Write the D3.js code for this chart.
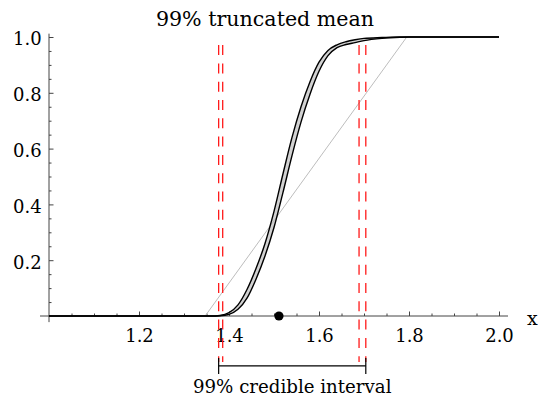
<!DOCTYPE html>
<html>
<head>
<meta charset="utf-8">
<script src="https://cdn.jsdelivr.net/npm/d3@7"></script>
<style>
  html, body { margin: 0; padding: 0; background: #fff; }
  svg { display: block; }
</style>
</head>
<body>
<svg id="chart" width="538" height="401" font-family="DejaVu Serif, serif"></svg>
<script>
// ---- data ----
const title = "99% truncated mean";
const xLabel = "x";
const intervalLabel = "99% credible interval";
const xMajorTicks = [1.2, 1.4, 1.6, 1.8, 2.0];
const yMajorTicks = [0.2, 0.4, 0.6, 0.8, 1.0];
const cdfX     = [1.0, 1.36, 1.38,  1.40,  1.42,  1.44,  1.46,  1.48,  1.50,  1.52,  1.54,  1.56,  1.58,  1.60,  1.62,  1.64,  1.66,  1.68,  1.70,  1.74,  1.78,  1.80, 2.0];
const cdfUpper = [0,   0,    0.002, 0.012, 0.040, 0.095, 0.170, 0.260, 0.375, 0.510, 0.640, 0.750, 0.840, 0.910, 0.952, 0.972, 0.983, 0.990, 0.995, 0.998, 1.000, 1,    1];
const cdfLower = [0,   0,    0.001, 0.006, 0.024, 0.064, 0.132, 0.215, 0.317, 0.443, 0.575, 0.695, 0.795, 0.877, 0.933, 0.962, 0.973, 0.980, 0.987, 0.995, 0.999, 1,    1];
const refLineX = [1.347, 1.795];
const refLineY = [0, 1];
const redLines = [1.377, 1.386, 1.689, 1.704];
const credibleInterval = [1.377, 1.704];
const meanValue = 1.511;

// ---- layout ----
const FONT = "DejaVu Serif, serif";
const svg = d3.select("#chart");
const x = d3.scaleLinear().domain([1, 2]).range([49, 499]);
const y = d3.scaleLinear().domain([0, 1]).range([316, 37]);

const xMinor = d3.range(1.05, 2.0001, 0.05).filter(v => Math.abs(Math.round(v * 5) - v * 5) > 1e-6);
const yMinor = d3.range(0.05, 1.0001, 0.05).filter(v => Math.abs(Math.round(v * 5) - v * 5) > 1e-6);

const axisColor = "#444";

svg.append("line").attr("x1", x(0.98)).attr("x2", x(2.02)).attr("y1", y(0)).attr("y2", y(0))
  .attr("stroke", axisColor).attr("stroke-width", 1);
svg.append("line").attr("x1", x(1)).attr("x2", x(1)).attr("y1", y(-0.022)).attr("y2", y(1.012))
  .attr("stroke", axisColor).attr("stroke-width", 1);

const gxMinor = svg.append("g").attr("transform", `translate(0,${y(0)})`)
  .call(d3.axisTop(x).tickValues(xMinor).tickSize(2.5).tickFormat(""));
const gxMajor = svg.append("g").attr("transform", `translate(0,${y(0)})`)
  .call(d3.axisTop(x).tickValues(xMajorTicks).tickSize(4.5).tickFormat(d3.format(".1f")));
const gyMinor = svg.append("g").attr("transform", `translate(${x(1)},0)`)
  .call(d3.axisRight(y).tickValues(yMinor).tickSize(2.5).tickFormat(""));
const gyMajor = svg.append("g").attr("transform", `translate(${x(1)},0)`)
  .call(d3.axisRight(y).tickValues(yMajorTicks).tickSize(4.5).tickFormat(d3.format(".1f")));

[gxMinor, gxMajor, gyMinor, gyMajor].forEach(g => {
  g.attr("font-family", FONT);
  g.select(".domain").remove();
  g.selectAll(".tick line").attr("stroke", axisColor).attr("stroke-width", 1);
});
gxMajor.selectAll(".tick text")
  .attr("y", 26).attr("dy", null)
  .attr("font-size", 18).attr("fill", "#000");
gyMajor.selectAll(".tick text")
  .attr("x", -7.3).attr("dy", "0.44em").attr("text-anchor", "end")
  .attr("font-size", 18).attr("fill", "#000");

const pts = cdfX.map((v, i) => ({ x: v, u: cdfUpper[i], l: cdfLower[i] }));
svg.append("path").datum(pts)
  .attr("d", d3.area().x(d => x(d.x)).y0(d => y(d.l)).y1(d => y(d.u)).curve(d3.curveMonotoneX))
  .attr("fill", "#d2d2d2").attr("stroke", "none");

svg.append("path").datum(refLineX.map((v, i) => [v, refLineY[i]]))
  .attr("d", d3.line().x(d => x(d[0])).y(d => y(d[1])))
  .attr("fill", "none").attr("stroke", "#bdbdbd").attr("stroke-width", 1);

["u", "l"].forEach(k => {
  svg.append("path").datum(pts)
    .attr("d", d3.line().x(d => x(d.x)).y(d => y(d[k])).curve(d3.curveMonotoneX))
    .attr("fill", "none").attr("stroke", "#000").attr("stroke-width", 1.4);
});

svg.selectAll("line.red").data(redLines).enter().append("line")
  .attr("class", "red")
  .attr("x1", d => x(d)).attr("x2", d => x(d))
  .attr("y1", y(0.971)).attr("y2", y(-0.165))
  .attr("stroke", "#ff1a1a").attr("stroke-width", 1.3)
  .attr("stroke-dasharray", "10,8.3");

svg.append("circle").attr("cx", x(meanValue)).attr("cy", y(0)).attr("r", 4.6).attr("fill", "#000");

const by = y(-0.179);
svg.append("line").attr("x1", x(credibleInterval[0])).attr("x2", x(credibleInterval[1]))
  .attr("y1", by).attr("y2", by).attr("stroke", "#000").attr("stroke-width", 1.2);
credibleInterval.forEach(v => {
  svg.append("line").attr("x1", x(v)).attr("x2", x(v)).attr("y1", by - 8).attr("y2", by + 8)
    .attr("stroke", "#000").attr("stroke-width", 1.2);
});
svg.append("text").attr("x", (x(credibleInterval[0]) + x(credibleInterval[1])) / 2).attr("y", 393)
  .attr("text-anchor", "middle").attr("font-size", 18.2).attr("font-family", FONT).text(intervalLabel);

svg.append("text").attr("x", 265).attr("y", 26).attr("text-anchor", "middle")
  .attr("font-size", 20.6).attr("font-family", FONT).text(title);
svg.append("text").attr("x", 527).attr("y", 325).attr("font-size", 19).attr("font-family", FONT).text(xLabel);
</script>
</body>
</html>
